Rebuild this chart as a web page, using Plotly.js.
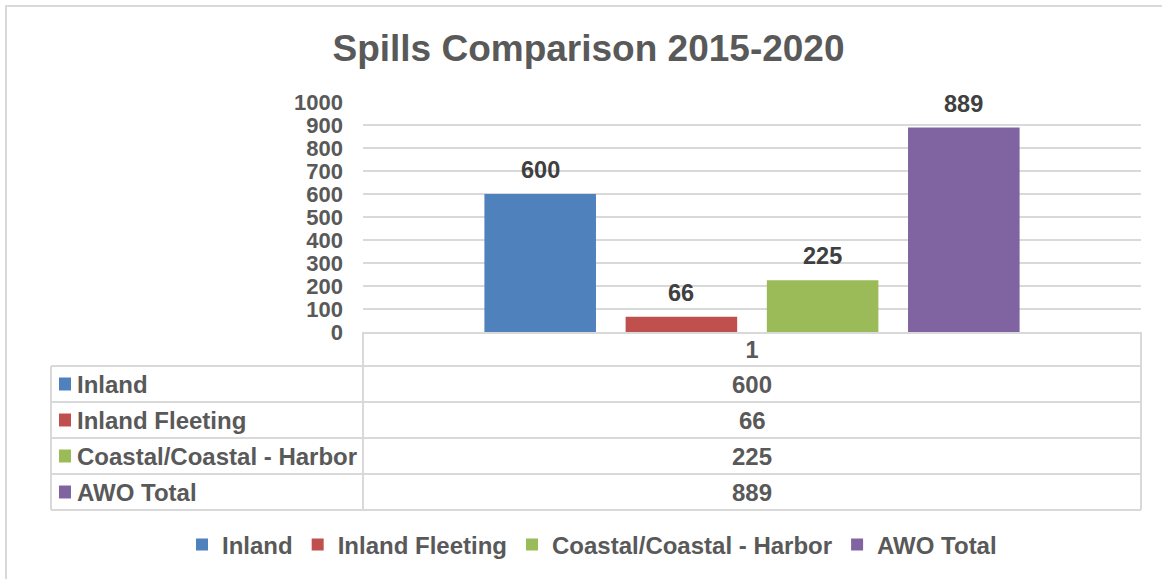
<!DOCTYPE html>
<html>
<head>
<meta charset="utf-8">
<script src="https://cdn.plot.ly/plotly-3.0.1.min.js"></script>
<style>html,body{margin:0;padding:0;background:#fff;}#chart{width:1162px;height:579px;}</style>
</head>
<body>
<div id="chart"></div>
<script>
// ---- data ----
const categories = ['1'];
const seriesNames = ['Inland', 'Inland Fleeting', 'Coastal/Coastal - Harbor', 'AWO Total'];
const seriesValues = [600, 66, 225, 889];
const seriesColors = ['#4F81BD', '#C0504D', '#9BBB59', '#8064A2'];
const yTicks = [0, 100, 200, 300, 400, 500, 600, 700, 800, 900, 1000];
const titleText = 'Spills Comparison 2015-2020';

// ---- layout helpers (pixel -> paper) ----
const W = 1162, H = 579;
const L = 363, R = 1141, T = 102, B = 332;
const px = x => (x - L) / (R - L);
const py = y => (B - y) / (B - T);

const FONT = 'Liberation Sans, Arial, sans-serif';
const TXT = '#595959';
const GRID = '#D9D9D9';
const FS = 24;
const TICKFS = 22;

const bargap = 0.274, bargroupgap = 0.21;

const traces = seriesNames.map((name, i) => ({
  type: 'bar',
  name: name,
  x: categories,
  y: [seriesValues[i]],
  marker: {color: seriesColors[i]},
  hoverinfo: 'name+y'
}));

const shapes = [];
const annotations = [];
const lineStyle = {color: GRID, width: 2};

// outer chart border (right/bottom lie outside the picture)
shapes.push({type: 'rect', xref: 'paper', yref: 'paper', x0: px(6), x1: px(1180), y0: py(6), y1: py(600), line: {color: GRID, width: 2}, fillcolor: 'rgba(0,0,0,0)', layer: 'below'});

// data table
const rowEdges = [332, 366, 402, 438, 474, 510];
const tblLeft = 51;
for (let k = 1; k < rowEdges.length; k++) {
  shapes.push({type: 'line', xref: 'paper', yref: 'paper', x0: px(tblLeft), x1: px(R), y0: py(rowEdges[k]), y1: py(rowEdges[k]), line: lineStyle});
}
shapes.push({type: 'line', xref: 'paper', yref: 'paper', x0: px(tblLeft), x1: px(tblLeft), y0: py(rowEdges[1]), y1: py(rowEdges[5]), line: lineStyle});
shapes.push({type: 'line', xref: 'paper', yref: 'paper', x0: px(L), x1: px(L), y0: py(rowEdges[0]), y1: py(rowEdges[5]), line: lineStyle});
shapes.push({type: 'line', xref: 'paper', yref: 'paper', x0: px(R), x1: px(R), y0: py(rowEdges[0]), y1: py(rowEdges[5]), line: lineStyle});

seriesNames.forEach((name, i) => {
  const yc = (rowEdges[i + 1] + rowEdges[i + 2]) / 2;
  shapes.push({type: 'rect', xref: 'paper', yref: 'paper', x0: px(59), x1: px(71), y0: py(yc - 6.5), y1: py(yc + 6.5), fillcolor: seriesColors[i], line: {width: 0}});
  annotations.push({xref: 'paper', yref: 'paper', x: px(75), y: py(yc), xanchor: 'left', yanchor: 'middle', showarrow: false, text: name, font: {family: FONT, size: FS, color: TXT, weight: 'bold'}});
  annotations.push({xref: 'paper', yref: 'paper', x: 0.5, y: py(yc), xanchor: 'center', yanchor: 'middle', showarrow: false, text: String(seriesValues[i]), font: {family: FONT, size: FS, color: TXT, weight: 'bold'}});
});

// value labels above bars, placed through the axes
const n = seriesNames.length;
const slot = (1 - bargap) / n;
seriesNames.forEach((name, i) => {
  const off = -(1 - bargap) / 2 + slot * (i + 0.5);
  annotations.push({xref: 'x', yref: 'y', x: off, y: seriesValues[i], xanchor: 'center', yanchor: 'bottom', yshift: 9, showarrow: false, text: String(seriesValues[i]), font: {family: FONT, size: 23.5, color: '#404040', weight: 'bold'}});
});

const layout = {
  width: W, height: H,
  margin: {l: L, r: W - R, t: T, b: H - B, pad: 0, autoexpand: false},
  paper_bgcolor: '#ffffff',
  plot_bgcolor: '#ffffff',
  font: {family: FONT, color: TXT},
  title: {text: titleText, font: {family: FONT, size: 37, color: TXT, weight: 'bold'}, xref: 'container', yref: 'container', x: 588.5 / W, xanchor: 'center', y: 1 - 48 / H, yanchor: 'middle'},
  barmode: 'group',
  bargap: bargap,
  bargroupgap: bargroupgap,
  xaxis: {type: 'category', showgrid: false, zeroline: false, showline: true, linecolor: GRID, linewidth: 2, ticks: '', tickfont: {family: FONT, size: 23.5, color: TXT, weight: 'bold'}, ticklabelstandoff: -4, fixedrange: true},
  yaxis: {range: [0, 1000], tickmode: 'array', tickvals: yTicks, ticktext: yTicks.map(String), showgrid: true, gridcolor: GRID, gridwidth: 1.5, zeroline: false, showline: false, ticks: '', tickfont: {family: FONT, size: TICKFS, color: TXT, weight: 'bold'}, ticklabelstandoff: 19, fixedrange: true},
  showlegend: true,
  legend: {orientation: 'h', xref: 'paper', yref: 'paper', x: px(182), xanchor: 'left', y: py(545), yanchor: 'middle', font: {family: FONT, size: FS, color: TXT, weight: 'bold'}, bgcolor: 'rgba(0,0,0,0)'},
  shapes: shapes,
  annotations: annotations
};

Plotly.newPlot('chart', traces, layout, {displayModeBar: false, staticPlot: true});
</script>
</body>
</html>
